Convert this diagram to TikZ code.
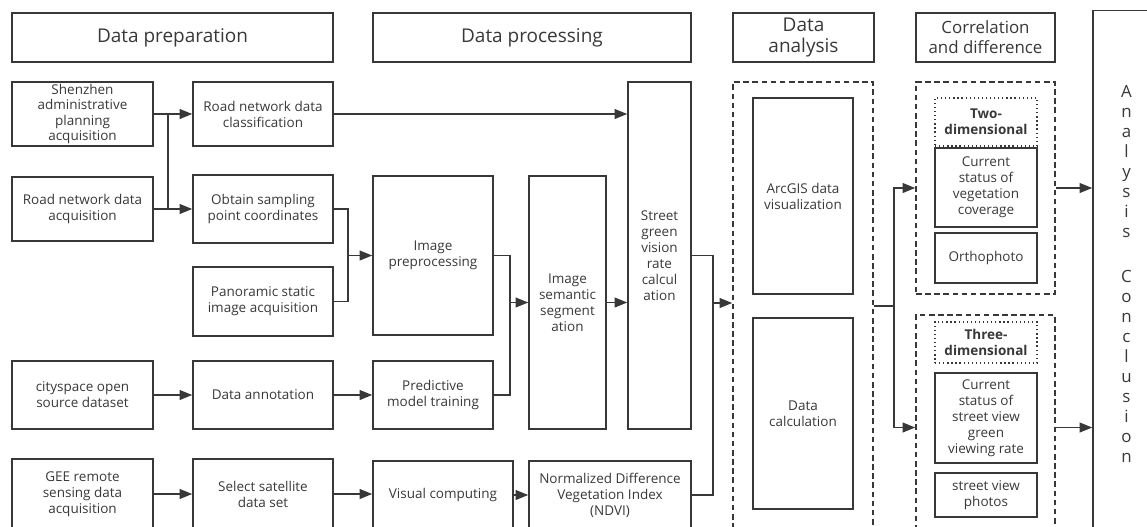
\documentclass[tikz,border=0pt]{standalone}
\usepackage{fontspec}
\setmainfont{Open Sans}
\usetikzlibrary{arrows.meta}
\definecolor{ink}{HTML}{383838}
\begin{document}
\begin{tikzpicture}[
    x=0.025cm, y=-0.025cm,
    wd/.style={minimum width=#1*0.025cm},
    ht/.style={minimum height=#1*0.025cm},
    box/.style={draw=ink, line width=1.1pt, inner sep=0.5pt, align=center, text=ink,
        font=\fontsize{9.6}{11.4}\selectfont},
    head/.style={box, font=\fontsize{13.5}{15.5}\selectfont},
    group/.style={draw=ink, line width=1.1pt, dash pattern=on 4pt off 2.5pt},
    tag/.style={box, line width=0.9pt, dotted, font=\bfseries\fontsize{9.6}{11.4}\selectfont},
    flow/.style={draw=ink, line width=1.1pt, -{Triangle[length=9pt,width=7pt]}},
    link/.style={draw=ink, line width=1.1pt}
]
    \useasboundingbox (0,0) rectangle (1147,527);
    \clip (0,0) rectangle (1147,527);

    % Headers
    \node[head, wd=321, ht=49] (hprep) at (172.5,37.5) {Data preparation};
    \node[head, wd=318, ht=49] (hproc) at (532,37.5) {Data processing};
    \node[head, wd=141, ht=49] (hana) at (803.5,37.5) {Data\\analysis};
    \node[head, wd=139, ht=49, font=\fontsize{12}{14}\selectfont] (hcorr) at (985.5,37.5) {Correlation\\and difference};
    \node[box, wd=67, ht=527, font=\fontsize{12}{14.2}\selectfont] (concl) at (1126.5,274)
        {A\\n\\a\\l\\y\\s\\i\\s\\[18pt]C\\o\\n\\c\\l\\u\\s\\i\\o\\n};

    % Data preparation
    \node[box, wd=141, ht=64, font=\fontsize{9.6}{11}\selectfont] (shz) at (82.5,114) {Shenzhen\\administrative\\planning\\acquisition};
    \node[box, wd=141, ht=64] (rnacq) at (82.5,209) {Road network data\\acquisition};
    \node[box, wd=141, ht=68] (city) at (82.5,395) {cityspace open\\source dataset};
    \node[box, wd=141, ht=70] (gee) at (82.5,494) {GEE remote\\sensing data\\acquisition};
    \node[box, wd=140, ht=64] (rncls) at (263,114) {Road network data\\classification};
    \node[box, wd=140, ht=68] (obtain) at (263,209) {Obtain sampling\\point coordinates};
    \node[box, wd=140, ht=69] (pano) at (263,301.5) {Panoramic static\\image acquisition};
    \node[box, wd=140, ht=68] (annot) at (263,395) {Data annotation};
    \node[box, wd=140, ht=70] (satel) at (263,494) {Select satellite\\data set};

    % Data processing
    \node[box, wd=120, ht=159] (imgpre) at (433,255.5) {Image\\preprocessing};
    \node[box, wd=120, ht=68] (pred) at (433,395) {Predictive\\model training};
    \node[box, wd=140, ht=68] (vis) at (443,495) {Visual computing};
    \node[box, wd=77, ht=253] (seg) at (567.5,302.5) {Image\\semantic\\segment\\ation};
    \node[box, wd=162, ht=68] (ndvi) at (610,495) {Normalized Difference\\Vegetation Index\\(NDVI)};
    \node[box, wd=63, ht=347] (sgv) at (659.5,255.5) {Street\\green\\vision\\rate\\calcul\\ation};

    % Data analysis
    \node[group, wd=140, ht=458] (ana) at (803,311) {};
    \node[box, wd=100, ht=196] (arcgis) at (803,196) {ArcGIS data\\visualization};
    \node[box, wd=100, ht=191] (calc) at (803,413.5) {Data\\calculation};

    % Correlation and difference
    \node[group, wd=139, ht=212] (two) at (985.5,188) {};
    \node[tag, wd=102, ht=48] (twodim) at (986,122) {Two-\\dimensional};
    \node[box, wd=102, ht=79] (veg) at (986,187.5) {Current\\status of\\vegetation\\coverage};
    \node[box, wd=102, ht=50] (ortho) at (986,258) {Orthophoto};
    \node[group, wd=139, ht=225] (three) at (985.5,427.5) {};
    \node[tag, wd=102, ht=41] (threedim) at (986,342.5) {Three-\\dimensional};
    \node[box, wd=102, ht=90] (sv) at (986,418) {Current\\status of\\street view\\green\\viewing rate};
    \node[box, wd=102, ht=44] (photos) at (986,495) {street view\\photos};

    % Connectors, data preparation
    \coordinate (ja) at (168,114);
    \coordinate (jb) at (168,209);
    \draw[flow] (shz.east) -- (shz.east -| rncls.west);
    \draw[flow] (rnacq.east) -- (rnacq.east -| obtain.west);
    \draw[link] (ja) -- (jb);
    \draw[flow] (city.east) -- (city.east -| annot.west);
    \draw[flow] (gee.east) -- (gee.east -| satel.west);

    % Connectors, data processing
    \draw[flow] (rncls.east) -- (rncls.east -| sgv.west);
    \draw[flow] (obtain.east) -- ++(14,0) |- (imgpre.west);
    \draw[link, shorten >=4pt] (pano.east) -- ++(14,0) |- (imgpre.west);
    \draw[flow] (annot.east) -- (annot.east -| pred.west);
    \draw[flow] (satel.east) -- (satel.east -| vis.west);
    \draw[flow] (vis.east) -- (vis.east -| ndvi.west);
    \draw[flow] (imgpre.east) -- ++(16,0) |- (seg.west);
    \draw[link, shorten >=4pt] (pred.east) -- ++(16,0) |- (seg.west);
    \draw[flow] (seg.east) -- (seg.east -| sgv.west);
    \draw[link] (sgv.east) -- ++(21,0) |- (ndvi.east);
    \coordinate (jc) at (712,303);
    \draw[flow] (jc) -- (jc -| ana.west);

    % Connectors, analysis
    \coordinate (jd) at (894,306);
    \draw[link] (jd -| ana.east) -- (jd);
    \draw[flow] (jd) |- (two.west);
    \draw[flow] (jd) |- (three.west);
    \draw[flow] (two.east) -- (two.east -| concl.west);
    \draw[flow] (three.east) -- (three.east -| concl.west);
\end{tikzpicture}
\end{document}
